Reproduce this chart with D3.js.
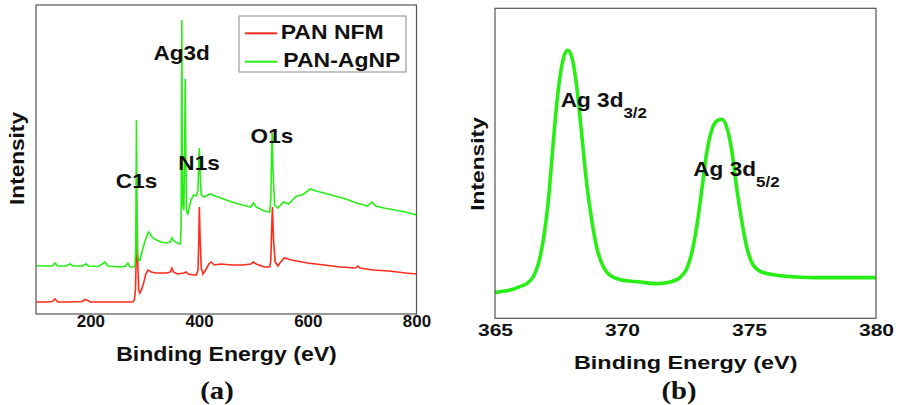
<!DOCTYPE html>
<html>
<head>
<meta charset="utf-8">
<script src="https://cdn.jsdelivr.net/npm/d3@7"></script>
<style>
  body { margin: 0; background: #fff; }
  text { font-family: "Liberation Sans", Arial, sans-serif; font-weight: bold; fill: #111; }
</style>
</head>
<body>
<script>
var width = 900,
    height = 405;

// ---- panel (a): survey spectra, [binding energy eV, intensity a.u.] ----
var nfmEnergy = [100, 120, 130, 135, 140, 160, 185, 190, 195, 200, 230, 260, 278, 281, 283, 285.5, 287, 289, 291, 294,
    298, 302, 306, 312, 320, 330, 340, 347, 350, 353, 360, 372, 376, 380, 390, 395, 398, 399.5, 400.5, 402,
    404, 407, 412, 418, 422, 428, 440, 460, 480, 495, 500, 505, 520, 530, 532, 533.5, 535, 537, 540, 545,
    550, 557, 570, 600, 630, 660, 688, 692, 696, 720, 750, 780, 800];
var nfmIntensity = [12, 12, 12.5, 15, 12, 12, 12.5, 14.5, 13.5, 12, 12, 12, 12, 14, 24, 86, 54, 24, 21, 24,
    31, 40, 44, 42, 41, 41, 41, 42, 46, 42, 40, 41, 42, 40, 39, 39, 44, 74, 107, 74,
    46, 40, 44, 50, 52, 49, 50, 49, 49, 50, 52, 50, 47, 47, 54, 84, 107, 74, 52, 48,
    52, 56, 54, 51, 49, 47, 46, 48, 46, 44, 43, 41, 40];

var agnpEnergy = [100, 120, 130, 135, 140, 155, 163, 168, 185, 192, 197, 215, 227, 232, 255, 265, 269, 273, 280, 282,
    283.5, 284.8, 285.8, 287, 289, 291.5, 295, 300, 304, 307, 310, 315, 322, 330, 340, 347, 350, 354, 360, 365,
    366, 367, 367.5, 368.2, 369, 370, 372, 373.5, 374.5, 375.5, 377, 379, 385, 390, 395, 398, 399.5, 400.5, 402, 404,
    410, 420, 440, 460, 480, 495, 500, 505, 520, 530, 532, 533.5, 534.5, 536, 539, 545, 555, 565, 575, 580,
    590, 600, 605, 615, 630, 650, 670, 690, 710, 718, 725, 740, 760, 780, 800];
var agnpIntensity = [48.3, 48, 48, 51, 48, 48, 50, 48, 48, 50, 48, 47.5, 52, 48, 47, 48, 51, 47, 47, 48,
    64, 194, 114, 59, 53, 54, 62, 72, 78, 82, 80, 76, 74, 72, 71, 72, 76, 73, 71, 70,
    72, 89, 164, 294, 164, 109, 104, 164, 235, 164, 104, 99, 114, 119, 118, 124, 154, 166, 139, 119,
    117, 120, 116, 112, 109, 107, 111, 107, 103, 102, 114, 164, 181, 144, 109, 106, 112, 110, 116, 118,
    119, 123, 125, 123, 121, 118, 115, 111, 108, 112, 108, 106, 104, 102, 99];

var surveyTicks = [200, 400, 600, 800];
var surveySeries = ["PAN NFM", "PAN-AgNP"];
var peakLabels = ["C1s", "Ag3d", "N1s", "O1s"];
var peakLabelEnergy = [285, 368, 400, 534];
var peakLabelIntensity = [126, 254, 144, 171];

// ---- panel (b): Ag 3d high resolution ----
var agEnergy = [365.00, 365.33, 365.66, 366.00, 366.25, 366.50, 366.71, 366.90, 367.10, 367.30, 367.49, 367.69,
    367.86, 368.02, 368.22, 368.41, 368.61, 368.81, 369.00, 369.27, 369.53, 370.05, 370.71, 371.36,
    371.89, 372.28, 372.55, 372.74, 372.94, 373.14, 373.33, 373.53, 373.73, 373.92, 374.12, 374.32,
    374.51, 374.71, 374.91, 375.17, 375.50, 376.09, 376.88, 377.66, 378.98, 380.00];
var agIntensity = [25.7, 27, 28.7, 32, 34.7, 41.3, 54.7, 78, 118, 178, 228, 259.7,
    268, 261.3, 231.3, 184.7, 134.7, 98, 71.3, 51.3, 43, 38, 36.3, 34.7,
    36.3, 40.7, 49.7, 64.7, 91.3, 128, 164.7, 188, 197.3, 199, 191.3, 168,
    131.3, 98, 71.3, 53, 46.3, 43, 41.3, 40.7, 40.7, 40.7];
var agTicks = [365, 370, 375, 380];

var red = "#ff2b1c",
    green = "#27ee14";

var svg = d3.select("body").append("svg")
    .attr("width", width)
    .attr("height", height);

// bold sans text, stretched a little sideways like the original figure
function label(parent, x, y, str, size, sx, anchor, rot) {
    return parent.append("text")
        .attr("transform", "translate(" + x + "," + y + ")" + (rot ? " rotate(" + rot + ")" : "") + " scale(" + sx + ",1)")
        .attr("text-anchor", anchor || "start")
        .style("font-size", size + "px")
        .text(str);
}

function styleTicks(ax, size, sx) {
    ax.select(".domain").remove();
    ax.selectAll("text")
        .attr("transform", "scale(" + sx + ",1)")
        .attr("fill", "#111")
        .style("font-size", size + "px")
        .style("font-weight", "bold")
        .style("font-family", "'Liberation Sans', Arial, sans-serif");
}

// ================= panel (a) =================
var xa = d3.scaleLinear().domain([100, 800]).range([36, 416.5]);
var ya = d3.scaleLinear().domain([0, 309]).range([314, 5]);

var lineA = d3.line()
    .x(function (d) { return xa(d[0]); })
    .y(function (d) { return ya(d[1]); });

svg.append("path")
    .datum(d3.zip(nfmEnergy, nfmIntensity))
    .attr("d", lineA)
    .attr("fill", "none")
    .attr("stroke", red)
    .attr("stroke-width", 1.6);

svg.append("path")
    .datum(d3.zip(agnpEnergy, agnpIntensity))
    .attr("d", lineA)
    .attr("fill", "none")
    .attr("stroke", green)
    .attr("stroke-width", 1.6);

svg.append("rect")
    .attr("x", xa(100)).attr("y", ya(309))
    .attr("width", xa(800) - xa(100)).attr("height", ya(0) - ya(309))
    .attr("fill", "none").attr("stroke", "#555").attr("stroke-width", 1.2);

var axA = svg.append("g")
    .attr("transform", "translate(0," + ya(0) + ")")
    .call(d3.axisBottom(xa).tickValues(surveyTicks).tickSize(0).tickPadding(2).tickFormat(d3.format("d")));
styleTicks(axA, 16, 1.06);

peakLabels.forEach(function (p, i) {
    label(svg, xa(peakLabelEnergy[i]), ya(peakLabelIntensity[i]), p, 20, 1.13, "middle");
});

// legend
var leg = svg.append("g");
leg.append("rect")
    .attr("x", 239).attr("y", 16).attr("width", 167).attr("height", 56)
    .attr("fill", "#fff").attr("stroke", "#8a8a8a").attr("stroke-width", 1);
surveySeries.forEach(function (s, i) {
    leg.append("line")
        .attr("x1", 245).attr("x2", 277)
        .attr("y1", 33.3 + i * 28.4).attr("y2", 33.3 + i * 28.4)
        .attr("stroke", i === 0 ? red : green).attr("stroke-width", 2);
    label(leg, i === 0 ? 280.7 : 283.3, 38.5 + i * 28.4, s, 20, 1.15, "start");
});

label(svg, 24, 158.5, "Intensity", 20, 1.13, "middle", -90);
label(svg, 226.5, 361, "Binding Energy (eV)", 21, 1.1, "middle");
label(svg, 217, 399, "(a)", 25, 1.15, "middle")
    .style("font-family", "'Liberation Serif', 'Times New Roman', serif");

// ================= panel (b) =================
var xb = d3.scaleLinear().domain([365, 380]).range([495, 876]);
var yb = d3.scaleLinear().domain([0, 310]).range([318.3, 8.3]);

svg.append("path")
    .datum(d3.zip(agEnergy, agIntensity))
    .attr("d", d3.line()
        .curve(d3.curveMonotoneX)
        .x(function (d) { return xb(d[0]); })
        .y(function (d) { return yb(d[1]); }))
    .attr("fill", "none")
    .attr("stroke", green)
    .attr("stroke-width", 3.6)
    .attr("stroke-linejoin", "round");

svg.append("rect")
    .attr("x", xb(365)).attr("y", yb(310))
    .attr("width", xb(380) - xb(365)).attr("height", yb(0) - yb(310))
    .attr("fill", "none").attr("stroke", "#555").attr("stroke-width", 1.2);

var axB = svg.append("g")
    .attr("transform", "translate(0," + yb(0) + ")")
    .call(d3.axisBottom(xb).tickValues(agTicks).tickSize(0).tickPadding(6).tickFormat(d3.format("d")));
styleTicks(axB, 17, 1.24);

var sub1 = label(svg, 560.7, 106.7, "Ag 3d", 20, 1.13, "start");
sub1.append("tspan").attr("dy", 11.5).style("font-size", "15px").text("3/2");
var sub2 = label(svg, 693.3, 175.5, "Ag 3d", 20, 1.13, "start");
sub2.append("tspan").attr("dy", 11.5).style("font-size", "15px").text("5/2");

label(svg, 484, 164, "Intensity", 19, 1.2, "middle", -90);
label(svg, 685.7, 369, "Binding Energy (eV)", 18, 1.3, "middle");
label(svg, 679, 399, "(b)", 25, 1.15, "middle")
    .style("font-family", "'Liberation Serif', 'Times New Roman', serif");
</script>
</body>
</html>
